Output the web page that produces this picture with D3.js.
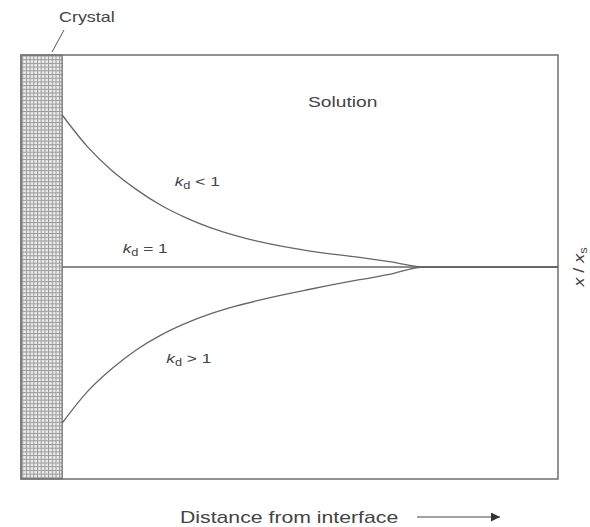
<!DOCTYPE html>
<html>
<head>
<meta charset="utf-8">
<script src="https://cdn.jsdelivr.net/npm/d3@7/dist/d3.min.js"></script>
<style>
  body { margin: 0; background: #fff; }
  svg { display: block; }
  text { font-family: "Liberation Sans", Arial, sans-serif; fill: #444; }
</style>
</head>
<body>
<svg id="chart" width="590" height="527"></svg>
<script>
// Distance from the crystal face (arbitrary units); negative values lie inside the crystal
const crystalThickness = 0.83;
const distance = [0, 0.5, 1, 1.5, 2, 2.5, 3, 3.5, 4, 5, 6, 6.6, 7.3, 10];
// Solution concentration relative to the saturation value, x / x_s
const ratioKdLess = [1.717, 1.57, 1.455, 1.365, 1.29, 1.232, 1.185, 1.148, 1.118, 1.075, 1.045, 1.025, 1.0, 1.0];
const ratioKdOne  = [1, 1, 1, 1, 1, 1, 1, 1, 1, 1, 1, 1, 1, 1];
const ratioKdMore = [0.264, 0.41, 0.52, 0.61, 0.68, 0.735, 0.78, 0.815, 0.845, 0.895, 0.94, 0.965, 1.0, 1.0];

const seriesLabels = [
  { rel: " < 1", d: 2.27, r: 1.38 },
  { rel: " = 1", d: 1.22, r: 1.065 },
  { rel: " > 1", d: 2.1, r: 0.545 }
];

const svg = d3.select("#chart");
const stretch = 1.28;   // lettering is set slightly extended

const x = d3.scaleLinear().domain([-crystalThickness, 10]).range([21, 558]);
const y = d3.scaleLinear().domain([0, 2]).range([479, 55]);

// Crystal: fine cross-hatched grid
const defs = svg.append("defs");
const cell = 3.7;
const pat = defs.append("pattern")
  .attr("id", "grid")
  .attr("patternUnits", "userSpaceOnUse")
  .attr("width", cell).attr("height", cell);
pat.append("rect").attr("width", cell).attr("height", cell).attr("fill", "#ececec");
pat.append("line").attr("x1", 0).attr("y1", 0.5).attr("x2", cell).attr("y2", 0.5)
  .attr("stroke", "#999").attr("stroke-width", 1);
pat.append("line").attr("x1", 0.5).attr("y1", 0).attr("x2", 0.5).attr("y2", cell)
  .attr("stroke", "#999").attr("stroke-width", 1);

svg.append("rect")
  .attr("x", x(-crystalThickness)).attr("y", y(2))
  .attr("width", x(0) - x(-crystalThickness))
  .attr("height", y(0) - y(2))
  .attr("fill", "url(#grid)")
  .attr("stroke", "#666").attr("stroke-width", 1.2);

// Outer frame
svg.append("rect")
  .attr("x", x(-crystalThickness)).attr("y", y(2))
  .attr("width", x(10) - x(-crystalThickness))
  .attr("height", y(0) - y(2))
  .attr("fill", "none")
  .attr("stroke", "#777").attr("stroke-width", 1.6);

// Concentration profiles
const line = d3.line()
  .x((d, i) => x(distance[i]))
  .y(d => y(d))
  .curve(d3.curveMonotoneX);

[ratioKdOne, ratioKdLess, ratioKdMore].forEach(vals => {
  svg.append("path")
    .attr("d", line(vals))
    .attr("fill", "none")
    .attr("stroke", "#666")
    .attr("stroke-width", 1.3);
});

function label(px, py, size) {
  return svg.append("text")
    .attr("transform", `translate(${px},${py}) scale(${stretch},1)`)
    .attr("font-size", size);
}

// Curve labels
seriesLabels.forEach(l => {
  const t = label(x(l.d), y(l.r), 13.5);
  t.append("tspan").attr("font-style", "italic").text("k");
  t.append("tspan").attr("font-size", 10).attr("dy", 3).text("d");
  t.append("tspan").attr("dy", -3).text(l.rel);
});

label(308, 107, 15).text("Solution");

// Crystal callout
label(59, 22, 14).text("Crystal");
svg.append("line")
  .attr("x1", 52).attr("y1", 52).attr("x2", 64).attr("y2", 30)
  .attr("stroke", "#555").attr("stroke-width", 1);

// Vertical axis label x / x_s
const yl = svg.append("text")
  .attr("transform", `translate(584,${y(1)}) rotate(-90) scale(${stretch},1)`)
  .attr("text-anchor", "middle")
  .attr("font-size", 14);
yl.append("tspan").attr("font-style", "italic").text("x");
yl.append("tspan").text(" / ");
yl.append("tspan").attr("font-style", "italic").text("x");
yl.append("tspan").attr("font-size", 10).attr("dy", 3).text("s");

// Horizontal axis label with arrow
label(180, 523, 16.6).text("Distance from interface");
defs.append("marker")
  .attr("id", "arrow")
  .attr("viewBox", "0 0 10 10")
  .attr("refX", 10).attr("refY", 5)
  .attr("markerWidth", 13).attr("markerHeight", 9)
  .attr("markerUnits", "userSpaceOnUse")
  .attr("orient", "auto")
  .append("path").attr("d", "M0,0 L10,5 L0,10 Z").attr("fill", "#333");
svg.append("line")
  .attr("x1", 417).attr("y1", 517).attr("x2", 500).attr("y2", 517)
  .attr("stroke", "#444").attr("stroke-width", 1)
  .attr("marker-end", "url(#arrow)");
</script>
</body>
</html>
